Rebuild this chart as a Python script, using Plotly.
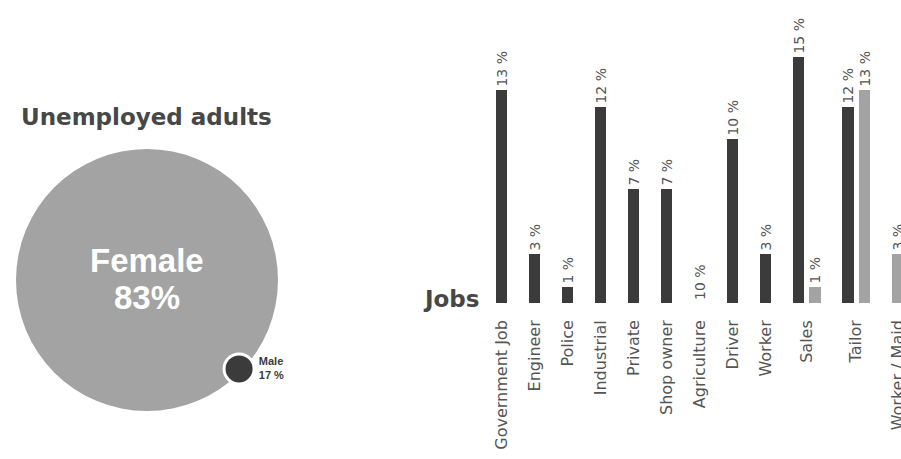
import numpy as np
import plotly.graph_objects as go

# ---------------- data ----------------
genders = ["Female", "Male"]
shares = [83, 17]
share_labels = ["83%", "17 %"]

jobs = ["Government Job", "Engineer", "Police", "Industrial", "Private", "Shop owner",
        "Agriculture", "Driver", "Worker", "Sales", "Tailor", "Worker / Maid"]
male_pct = [13, 3, 1, 12, 7, 7, 0, 10, 3, 15, 12, None]
female_pct = [None, None, None, None, None, None, None, None, None, 1, 13, 3]
male_labels = ["13 %", "3 %", "1 %", "12 %", "7 %", "7 %", "10 %", "10 %", "3 %", "15 %", "12 %", ""]
female_labels = ["", "", "", "", "", "", "", "", "", "1 %", "13 %", "3 %"]

# ---------------- style ----------------
W, H = 901, 459
DARK = "#3b3b3b"
LIGHT = "#a3a3a3"
TXT = "#474747"
FONT = "DejaVu Sans"

# category slots: a category holding both series is wider
both = [(m is not None) and (f is not None) for m, f in zip(male_pct, female_pct)]
slot = np.array([1.5 if b else 1.0 for b in both])
centers = np.cumsum(slot) - slot / 2 - slot[0] / 2
shift = 0.25
bar_w = 0.36
male_x = [c - shift if b else c for c, b in zip(centers, both)]
female_x = [c + shift if b else c for c, b in zip(centers, both)]

fig = go.Figure()

fig.add_trace(go.Bar(
    x=male_x, y=male_pct, width=bar_w, marker=dict(color=DARK, line=dict(width=0)),
    text=male_labels, textposition="outside", textangle=-90, constraintext="none",
    cliponaxis=False, textfont=dict(family=FONT, size=14, color="#555555"),
    xaxis="x", yaxis="y", showlegend=False, hoverinfo="skip"))
fig.add_trace(go.Bar(
    x=female_x, y=female_pct, width=bar_w, marker=dict(color=LIGHT, line=dict(width=0)),
    text=female_labels, textposition="outside", textangle=-90, constraintext="none",
    cliponaxis=False, textfont=dict(family=FONT, size=14, color="#555555"),
    xaxis="x", yaxis="y", showlegend=False, hoverinfo="skip"))

# circle panel: big circle for female, small one sitting on its rim for male
big_d, small_d = 262, 30
rim_r, rim_ang = 128, np.deg2rad(-44)
cx_px, cy_px = 147, 280
fig.add_trace(go.Scatter(
    x=[0], y=[0], mode="markers", cliponaxis=False,
    marker=dict(size=big_d, color=LIGHT, line=dict(width=0)),
    xaxis="x2", yaxis="y2", showlegend=False, hoverinfo="skip"))
fig.add_trace(go.Scatter(
    x=[rim_r * np.cos(rim_ang)], y=[rim_r * np.sin(rim_ang)], mode="markers+text",
    cliponaxis=False,
    marker=dict(size=small_d, color=DARK, line=dict(width=3, color="white")),
    text=[f"<b>{genders[1]}<br>{share_labels[1]}</b>"], textposition="middle right",
    textfont=dict(family="Liberation Sans", size=11, color="#3a3a3a"),
    xaxis="x2", yaxis="y2", showlegend=False, hoverinfo="skip"))

annotations = [
    dict(text=f"<b>{genders[0]}</b>", x=0, y=20, xref="x2", yref="y2", showarrow=False,
         font=dict(family="Liberation Sans", size=33, color="white"), xanchor="center", yanchor="middle"),
    dict(text=f"<b>{share_labels[0]}</b>", x=0, y=-17, xref="x2", yref="y2", showarrow=False,
         font=dict(family="Liberation Sans", size=33, color="white"), xanchor="center", yanchor="middle"),
    dict(text="<b>Unemployed adults</b>", x=146 / W, y=(H - 117) / H, xref="paper", yref="paper",
         showarrow=False, font=dict(family=FONT, size=23, color=TXT), xanchor="center", yanchor="middle"),
    dict(text="<b>Jobs</b>", x=482 / W, y=(H - 299) / H, xref="paper", yref="paper",
         showarrow=False, font=dict(family=FONT, size=23, color=TXT), xanchor="right", yanchor="middle"),
]

# bar panel geometry
px_per_unit = 33.0
x0_px = 501.5
dom_left_px = 470
base_px, px_per_pct, ymax = 303, 16.4, 16
xr = [(dom_left_px - x0_px) / px_per_unit, (W - x0_px) / px_per_unit]
y_dom0 = (H - base_px) / H
y_dom1 = y_dom0 + ymax * px_per_pct / H

fig.update_layout(
    width=W, height=H, template="none",
    margin=dict(l=0, r=0, t=0, b=0),
    paper_bgcolor="white", plot_bgcolor="rgba(0,0,0,0)",
    barmode="overlay", bargap=0,
    xaxis=dict(domain=[dom_left_px / W, 1], range=xr, tickmode="array", tickvals=list(centers),
               ticktext=jobs, tickangle=-90, showgrid=False, zeroline=False, showline=False,
               ticks="", ticklabelstandoff=13, automargin=False, ticklabeloverflow="allow",
               tickfont=dict(family=FONT, size=16, color="#555555")),
    yaxis=dict(domain=[y_dom0, y_dom1], range=[0, ymax], visible=False, automargin=False),
    xaxis2=dict(domain=[0, 300 / W], range=[-cx_px, 300 - cx_px], visible=False, automargin=False),
    yaxis2=dict(domain=[0, 1], range=[-(H - cy_px), cy_px], visible=False, automargin=False, anchor="x2"),
    annotations=annotations,
)

# place the figure flush with the page corner (no default body margin / scrollbars)
fig.write_html("out.html",
               config={"displayModeBar": False},
               post_script="document.body.style.margin='0';"
                           "document.documentElement.style.overflow='hidden';"
                           "document.body.style.overflow='hidden';")
